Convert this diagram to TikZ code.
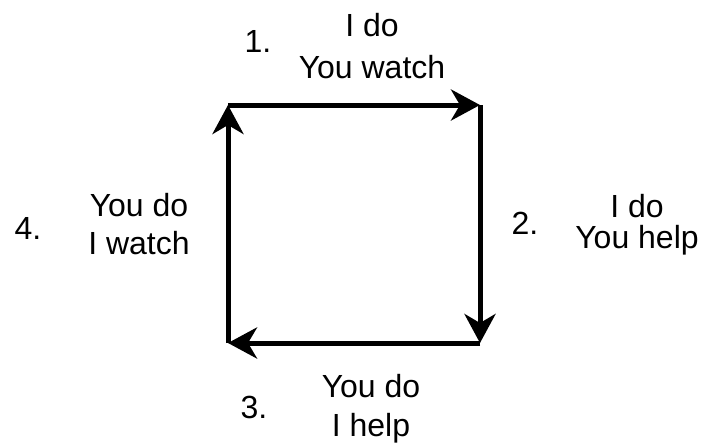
\documentclass[tikz,border=0pt]{standalone}
\usepackage{fontspec}
\setmainfont{Liberation Sans}
\usetikzlibrary{arrows.meta}

\begin{document}
\begin{tikzpicture}[
		x=1pt, y=-1pt,
		cyclearrow/.style={
			line width=5pt, -{Stealth[length=29pt, width=31pt, inset=9pt]}
		},
		steptext/.style={
			anchor=north, align=center, inner sep=0pt, font=\fontsize{32}{38}\selectfont
		},
		numlabel/.style={
			inner sep=0pt, font=\fontsize{32}{38}\selectfont
		}
		]
		
		\useasboundingbox (0,0) rectangle (707,445);
		
		% esquinas del ciclo
		\coordinate (tl) at (228,105);
		\coordinate (tr) at (480,105);
		\coordinate (br) at (480,343);
		\coordinate (bl) at (228,343);
		
		\draw[cyclearrow] (tl) -- (tr);  % paso 1
		\draw[cyclearrow] (tr) -- (br);  % paso 2
		\draw[cyclearrow] (br) -- (bl);  % paso 3
		\draw[cyclearrow] (bl) -- (tl);  % paso 4
		
		\node[numlabel] (num1) at (258,41) {1.};
		\node[steptext] (step1) at (372,13) {I do\\[4pt] You watch};
		
		\node[numlabel] (num2) at (525,223) {2.};
		\node[steptext] (step2) at (637,194) {I do\\[-7pt] You help};
		
		\node[numlabel] (num3) at (254,407) {3.};
		\node[steptext] (step3) at (371,374) {You do\\[1pt] I help};
		
		\node[numlabel] (num4) at (28,228) {4.};
		\node[steptext] (step4) at (139,193) {You do\\ I watch};
	\end{tikzpicture}
\end{document}
